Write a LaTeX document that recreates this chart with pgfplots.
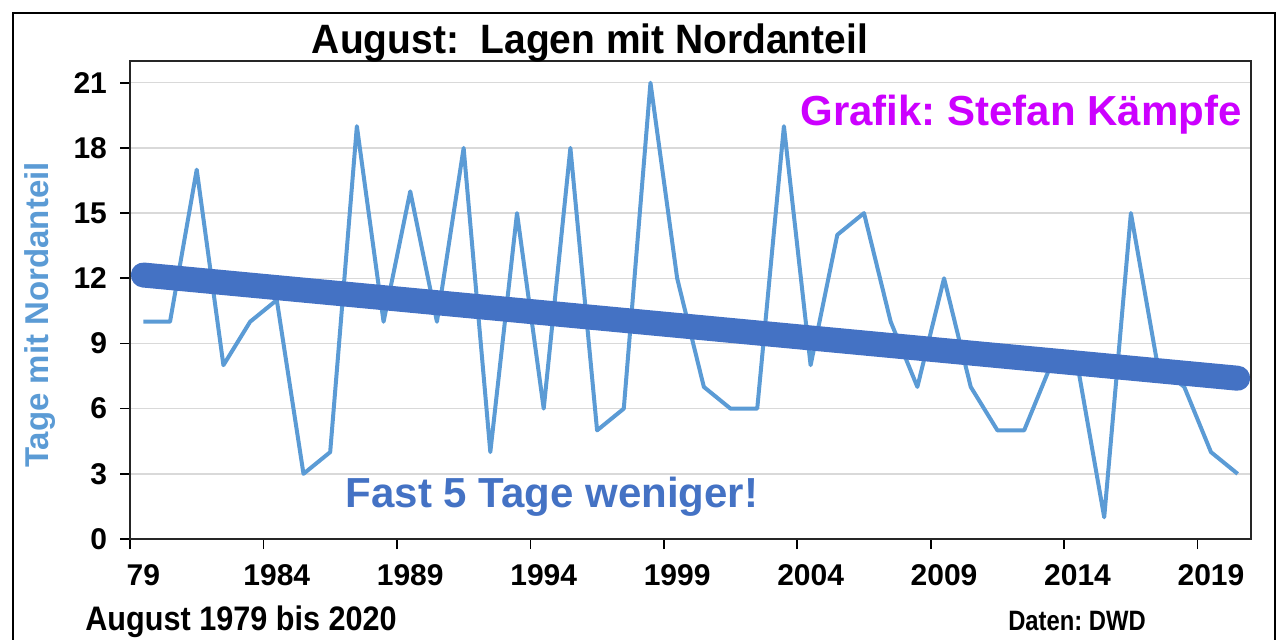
\documentclass[border=0pt]{standalone}
\usepackage{fontspec}
\setmainfont{Liberation Sans}
\usepackage{pgfplots}
\pgfplotsset{compat=1.18}
\frenchspacing

\definecolor{linieblau}{RGB}{91,155,213}
\definecolor{trendblau}{RGB}{68,114,196}
\definecolor{grafikmag}{RGB}{204,0,255}
\definecolor{gitter}{RGB}{217,217,217}

\begin{document}
\begin{tikzpicture}
% page = 1278x639 px at 0.5pt per px, axis box lower left at origin
\clip (-65pt,-50pt) rectangle (574pt,269.5pt);
\draw[black, line width=1pt] (-58.5pt,-60pt) rectangle (572.5pt,263pt);

\begin{axis}[
    scale only axis,
    width=560.5pt, height=239pt,
    xmin=1978.5, xmax=2020.5,
    ymin=0, ymax=22,
    xtick={1978.5,1983.5,...,2018.5},
    xticklabels={79,1984,1989,1994,1999,2004,2009,2014,2019},
    ytick={0,3,...,21},
    xtick pos=bottom, ytick pos=left,
    tick align=outside,
    major tick length=5pt,
    tick style={black, line width=0.8pt},
    axis line style={black!85, line width=1pt},
    ymajorgrids,
    grid style={gitter, line width=0.7pt},
    /pgf/number format/assume math mode=true,
    ticklabel style={font=\fontsize{15}{18}\selectfont\bfseries},
    xticklabel style={xshift=6.675pt, yshift=-4pt},
    yticklabel style={xshift=-3pt},
    clip=false,
]
\addplot[linieblau, line width=2pt, line join=round] coordinates {
(1979,10) (1980,10) (1981,17) (1982,8) (1983,10) (1984,11) (1985,3)
(1986,4) (1987,19) (1988,10) (1989,16) (1990,10) (1991,18) (1992,4)
(1993,15) (1994,6) (1995,18) (1996,5) (1997,6) (1998,21) (1999,12)
(2000,7) (2001,6) (2002,6) (2003,19) (2004,8) (2005,14) (2006,15)
(2007,10) (2008,7) (2009,12) (2010,7) (2011,5) (2012,5) (2013,8)
(2014,8) (2015,1) (2016,15) (2017,8) (2018,7) (2019,4) (2020,3)
};
\addplot[trendblau, line width=12.5pt, line cap=round] coordinates {
(1979,12.15) (2020,7.4)
};
\end{axis}

\node[font=\fontsize{20.5}{24}\selectfont\bfseries] at (230pt,248pt)
    {\scalebox{0.95}[1]{August:\ \ Lagen mit Nordanteil}};
\node[text=grafikmag, font=\fontsize{21}{25}\selectfont\bfseries] at (445.5pt,212pt)
    {Grafik: Stefan Kämpfe};
\node[text=trendblau, font=\fontsize{21}{25}\selectfont\bfseries] at (211pt,21pt)
    {Fast 5 Tage weniger!};
\node[text=linieblau, rotate=90, font=\fontsize{16.5}{20}\selectfont\bfseries] at (-45pt,112pt)
    {Tage mit Nordanteil};
\node[anchor=west, inner sep=0pt, font=\fontsize{17}{20}\selectfont\bfseries] at (-22.5pt,-41.5pt)
    {\scalebox{0.9}[1]{August 1979 bis 2020}};
\node[font=\fontsize{14}{17}\selectfont\bfseries] at (473.5pt,-41pt)
    {\scalebox{0.85}[1]{Daten: DWD}};
\end{tikzpicture}
\end{document}
